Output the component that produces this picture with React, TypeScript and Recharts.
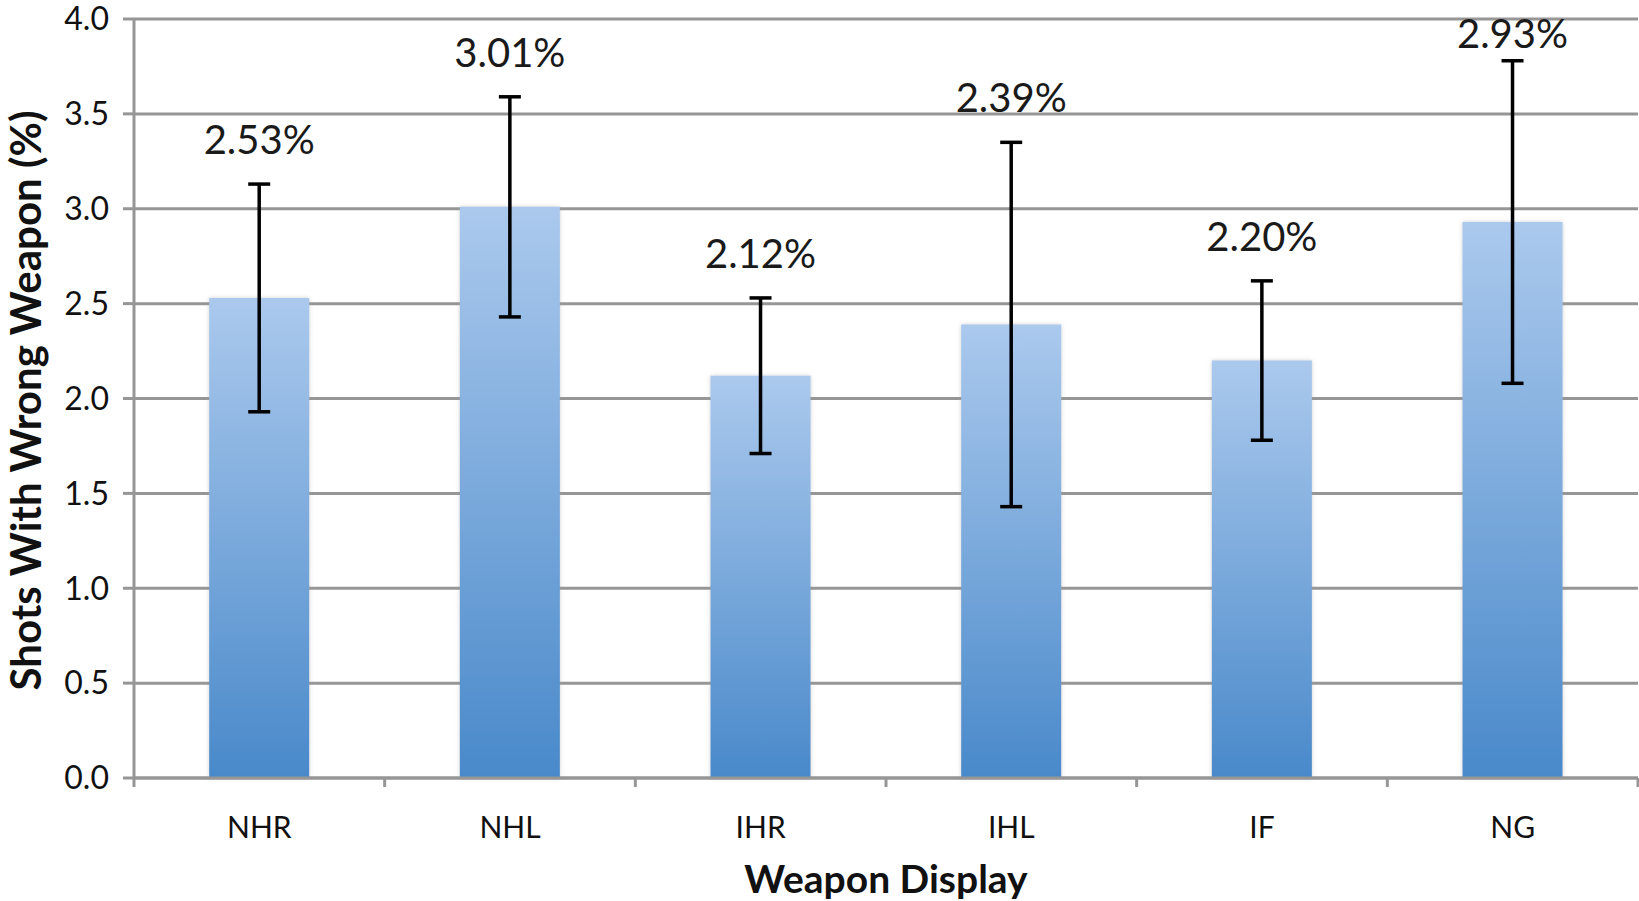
import { BarChart, Bar, XAxis, YAxis, CartesianGrid, ErrorBar, LabelList } from 'recharts';

const categories = ['NHR', 'NHL', 'IHR', 'IHL', 'IF', 'NG'];
const values = [2.53, 3.01, 2.12, 2.39, 2.2, 2.93];
const errors = [0.6, 0.58, 0.41, 0.96, 0.42, 0.85];
const yTicks = [0, 0.5, 1, 1.5, 2, 2.5, 3, 3.5, 4];

const data = categories.map((name, i) => ({ name, value: values[i], err: errors[i] }));

const W = 1639;
const H = 901;
const margin = { top: 19, right: 1, left: 0, bottom: 0 };
const yAxisWidth = 134;
const xAxisHeight = 123;
const band = (W - margin.left - margin.right - yAxisWidth) / categories.length;
const font = 'Lato, "Open Sans", sans-serif';
const gridColor = '#969696';

function XTick({ x, y, payload, index }: any) {
  const left = x - band / 2;
  return (
    <g>
      <line x1={left} y1={y} x2={left} y2={y + 9} stroke={gridColor} strokeWidth={3} />
      {index === categories.length - 1 && (
        <line x1={x + band / 2} y1={y} x2={x + band / 2} y2={y + 9} stroke={gridColor} strokeWidth={3} />
      )}
      <text x={x} y={y + 48} textAnchor="middle" dominantBaseline="central" fontFamily={font} fontSize={30} fill="#111">
        {payload.value}
      </text>
    </g>
  );
}

function ValueLabel({ x, y, width, height, value, index }: any) {
  const perUnit = height / value;
  const errTop = y - errors[index] * perUnit;
  const cy = Math.max(errTop - 45, 33);
  return (
    <text
      x={x + width / 2}
      y={cy}
      textAnchor="middle"
      dominantBaseline="central"
      fontFamily={font}
      fontWeight={400}
      fontSize={40}
      fill="#1a1a1a"
    >
      {value.toFixed(2)}%
    </text>
  );
}

export default function App() {
  return (
    <div style={{ position: 'absolute', left: 0, top: 0, width: W, height: H, background: '#fff' }}>
      <BarChart width={W} height={H} data={data} margin={margin} barCategoryGap="30%">
        <defs>
          <linearGradient id="barFill" x1="0" y1="0" x2="0" y2="1">
            <stop offset="0%" stopColor="#abc9ed" />
            <stop offset="100%" stopColor="#4989ca" />
          </linearGradient>
          <filter id="barShadow" x="-10%" y="-5%" width="120%" height="110%">
            <feDropShadow dx="0" dy="0" stdDeviation="2" floodColor="#9a9a9a" floodOpacity="0.45" />
          </filter>
        </defs>
        <CartesianGrid vertical={false} stroke={gridColor} strokeWidth={3} />
        <XAxis
          dataKey="name"
          height={xAxisHeight}
          axisLine={{ stroke: gridColor, strokeWidth: 3 }}
          tickLine={false}
          tickSize={0}
          tickMargin={0}
          tick={<XTick />}
          interval={0}
          label={{
            content: ({ viewBox }: any) => (
              <text
                x={viewBox.x + viewBox.width / 2}
                y={viewBox.y + 100}
                textAnchor="middle"
                dominantBaseline="central"
                fontFamily={font}
                fontWeight={700}
                fontSize={39}
                fill="#111"
              >
                Weapon Display
              </text>
            ),
          }}
        />
        <YAxis
          width={yAxisWidth}
          domain={[0, 4]}
          ticks={yTicks}
          interval={0}
          tickFormatter={(v: number) => v.toFixed(1)}
          axisLine={{ stroke: gridColor, strokeWidth: 3 }}
          tickLine={{ stroke: gridColor, strokeWidth: 3 }}
          tickSize={11}
          tickMargin={14}
          tick={{ fontFamily: font, fontSize: 32, fill: '#111' }}
          label={{
            content: ({ viewBox }: any) => {
              const cx = viewBox.x + 25;
              const cy = viewBox.y + viewBox.height / 2 + 2;
              return (
                <text
                  x={cx}
                  y={cy}
                  transform={`rotate(-90 ${cx} ${cy})`}
                  textAnchor="middle"
                  dominantBaseline="central"
                  fontFamily={font}
                  fontWeight={700}
                  fontSize={42}
                  fill="#111"
                >
                  Shots With Wrong Weapon (%)
                </text>
              );
            },
          }}
        />
        <Bar dataKey="value" fill="url(#barFill)" filter="url(#barShadow)" isAnimationActive={false}>
          <ErrorBar dataKey="err" width={11} stroke="#000" strokeWidth={3.5} isAnimationActive={false} />
          <LabelList dataKey="value" content={<ValueLabel />} />
        </Bar>
      </BarChart>
    </div>
  );
}
